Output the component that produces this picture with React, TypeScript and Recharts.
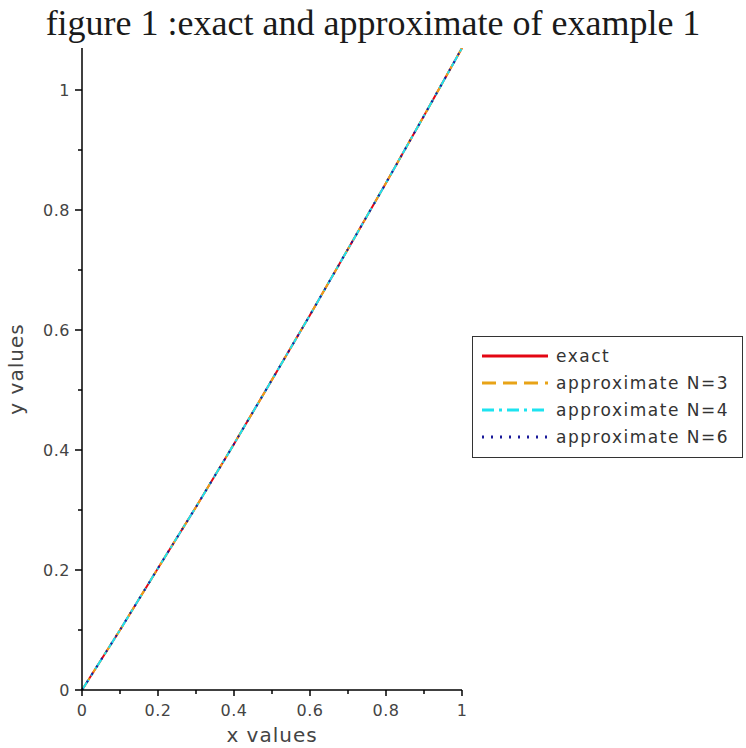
import React from "react"
import { LineChart, Line, XAxis, YAxis } from "recharts"

// x grid of the plotted solution
const xValues = [0, 0.1, 0.2, 0.3, 0.4, 0.5, 0.6, 0.7, 0.8, 0.9, 1]
// all four curves lie on top of each other
const exact = [0, 0.1, 0.203, 0.305, 0.41, 0.517, 0.625, 0.735, 0.845, 0.957, 1.07]
const approxN3 = [0, 0.1, 0.203, 0.305, 0.41, 0.517, 0.625, 0.735, 0.845, 0.957, 1.07]
const approxN4 = [0, 0.1, 0.203, 0.305, 0.41, 0.517, 0.625, 0.735, 0.845, 0.957, 1.07]
const approxN6 = [0, 0.1, 0.203, 0.305, 0.41, 0.517, 0.625, 0.735, 0.845, 0.957, 1.07]

const tickValues = [0, 0.1, 0.2, 0.3, 0.4, 0.5, 0.6, 0.7, 0.8, 0.9, 1]
const tickLabels = ["0", "", "0.2", "", "0.4", "", "0.6", "", "0.8", "", "1"]

const series = [
  { key: "exact", name: "exact", color: "#e30613", dash: undefined as string | undefined },
  { key: "n3", name: "approximate N=3", color: "#e8a317", dash: "14 7" },
  { key: "n4", name: "approximate N=4", color: "#1de3f0", dash: "12 5 3 5" },
  { key: "n6", name: "approximate N=6", color: "#1a1a9a", dash: "2 7" },
]

const data = xValues.map((x, i) => ({
  x,
  exact: exact[i],
  n3: approxN3[i],
  n4: approxN4[i],
  n6: approxN6[i],
}))

const tickFont = "'DejaVu Sans', sans-serif"

function XTick(props: any) {
  const { x, y, index } = props
  const label = tickLabels[index]
  const major = label !== ""
  return (
    <g>
      <line x1={x} x2={x} y1={y} y2={y + (major ? 6 : 4)} stroke="#000" strokeWidth={1.5} />
      {major && (
        <text x={x} y={y + 26} textAnchor="middle" fontSize={16} fill="#444" fontFamily={tickFont} letterSpacing={0.5}>
          {label}
        </text>
      )}
    </g>
  )
}

function YTick(props: any) {
  const { x, y, index } = props
  const label = tickLabels[index]
  const major = label !== ""
  return (
    <g>
      <line x1={x} x2={x - (major ? 7 : 4)} y1={y} y2={y} stroke="#000" strokeWidth={1.5} />
      {major && (
        <text x={x - 12} y={y + 6} textAnchor="end" fontSize={16} fill="#444" fontFamily={tickFont} letterSpacing={0.5}>
          {label}
        </text>
      )}
    </g>
  )
}

function LegendBox() {
  return (
    <div
      style={{
        position: "absolute",
        left: 472,
        top: 336,
        boxSizing: "border-box",
        border: "1.5px solid #333",
        background: "#fff",
        width: 271,
        height: 122,
        padding: "5px 0",
        fontFamily: tickFont,
        fontSize: 17,
        color: "#333",
        letterSpacing: 1.5,
      }}
    >
      {series.map((s) => (
        <div key={s.key} style={{ display: "flex", alignItems: "center", height: 27, whiteSpace: "nowrap" }}>
          <svg width={83} height={10}>
            <line x1={9} x2={75} y1={5} y2={5} stroke={s.color} strokeWidth={3} strokeDasharray={s.dash} />
          </svg>
          <span>{s.name}</span>
        </div>
      ))}
    </div>
  )
}

export default function App() {
  return (
    <div style={{ position: "absolute", left: 0, top: 0, width: 746, height: 748, background: "#fff" }}>
      <LineChart width={746} height={748} data={data} margin={{ top: 48, right: 284, bottom: 18, left: 0 }}>
        <XAxis
          dataKey="x"
          type="number"
          domain={[0, 1]}
          ticks={tickValues}
          tick={<XTick />}
          tickLine={false}
          tickSize={0}
          tickMargin={0}
          axisLine={{ stroke: "#000", strokeWidth: 1.5 }}
          height={40}
          label={{ value: "x values", position: "insideBottom", offset: -12, fontSize: 20, fill: "#444", fontFamily: tickFont, letterSpacing: 1 }}
        />
        <YAxis
          type="number"
          domain={[0, 1.07]}
          allowDataOverflow
          ticks={tickValues}
          tick={<YTick />}
          tickLine={false}
          tickSize={0}
          tickMargin={0}
          axisLine={{ stroke: "#000", strokeWidth: 1.5 }}
          width={82}
          label={{ value: "y values", angle: -90, position: "insideLeft", offset: 16, fontSize: 20, fill: "#444", fontFamily: tickFont, letterSpacing: 1, style: { textAnchor: "middle" } }}
        />
        {series.map((s) => (
          <Line
            key={s.key}
            dataKey={s.key}
            name={s.name}
            type="linear"
            stroke={s.color}
            strokeWidth={2}
            strokeDasharray={s.dash}
            dot={false}
            isAnimationActive={false}
          />
        ))}
      </LineChart>
      <div
        style={{
          position: "absolute",
          left: 0,
          top: 2,
          width: 746,
          textAlign: "center",
          fontFamily: "'Liberation Serif', 'Times New Roman', serif",
          fontSize: 36,
          color: "#1a1a1a",
        }}
      >
        figure 1 :exact and approximate of example 1
      </div>
      <LegendBox />
    </div>
  )
}
